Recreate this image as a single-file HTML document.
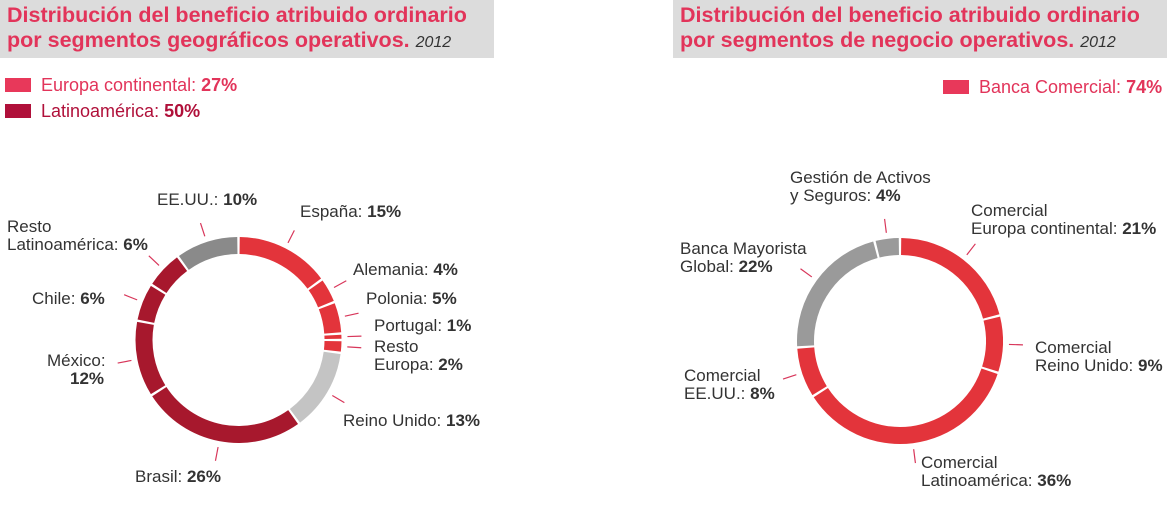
<!DOCTYPE html>
<html><head><meta charset="utf-8"><style>
body{margin:0;width:1171px;height:506px;background:#fff;overflow:hidden;font-family:"Liberation Sans",sans-serif;}
.hdr{position:absolute;top:0;height:58px;background:#dcdcdc;}
.ttl{position:absolute;left:7px;top:3px;color:#e2345a;font-weight:bold;font-size:21.5px;line-height:25px;white-space:nowrap;}
.ttl i{color:#333;font-weight:normal;font-size:16px;}
.leg{position:absolute;font-size:18px;white-space:nowrap;}
.sw{display:inline-block;width:26px;height:14px;vertical-align:-1px;margin-right:10px;}
svg{position:absolute;left:0;top:0;}
svg text{font-family:"Liberation Sans",sans-serif;font-size:17px;fill:#333;}
</style></head><body>
<div class="hdr" style="left:0;width:494px">
 <div class="ttl">Distribución del beneficio atribuido ordinario<br>por segmentos geográficos operativos. <i>2012</i></div></div>
<div class="hdr" style="left:673px;width:494px">
 <div class="ttl">Distribución del beneficio atribuido ordinario<br>por segmentos de negocio operativos. <i>2012</i></div></div>
<div class="leg" style="left:5px;top:75px;color:#e2345a"><span class="sw" style="background:#e8385a"></span>Europa continental: <b>27%</b></div>
<div class="leg" style="left:5px;top:101px;color:#b0103a"><span class="sw" style="background:#b0103a"></span>Latinoamérica: <b>50%</b></div>
<div class="leg" style="left:943px;top:77px;color:#e2345a"><span class="sw" style="background:#e8385a"></span>Banca Comercial: <b>74%</b></div>
<svg id="s" width="1171" height="506"></svg>
<script>
const leftValues=[15,4,5,1,2,13,26,12,6,6,10];
const leftColors=["#e3343b","#e3343b","#e3343b","#e3343b","#e3343b","#c4c4c4","#a7182d","#a7182d","#a7182d","#a7182d","#8a8a8a"];
const leftNames=["espana","alemania","polonia","portugal","resto-europa","reino-unido","brasil","mexico","chile","resto-latam","eeuu"];
const leftLabels=[["España: ","15%"],["Alemania: ","4%"],["Polonia: ","5%"],["Portugal: ","1%"],["Resto","","Europa: ","2%"],["Reino Unido: ","13%"],["Brasil: ","26%"],["México:","","","12%"],["Chile: ","6%"],["Resto","","Latinoamérica: ","6%"],["EE.UU.: ","10%"]];
const leftLabelPos=[[300,217],[353,275],[366,304],[374,331],[374,352],[343,426],[135,482],[47,366],[32,304],[7,232],[157,205]];
const rightValues=[21,9,36,8,22,4];
const rightColors=["#e3343b","#e3343b","#e3343b","#e3343b","#9a9a9a","#9a9a9a"];
const rightNames=["europa-continental","reino-unido","latinoamerica","eeuu","banca-mayorista","gestion-activos"];
const rightLabels=[["Comercial","","Europa continental: ","21%"],["Comercial","","Reino Unido: ","9%"],["Comercial","","Latinoamérica: ","36%"],["Comercial","","EE.UU.: ","8%"],["Banca Mayorista","","Global: ","22%"],["Gestión de Activos","","y Seguros: ","4%"]];
const rightLabelPos=[[971,216],[1035,353],[921,468],[684,381],[680,254],[790,183]];
const NS="http://www.w3.org/2000/svg",s=document.getElementById('s');
function mk(t,a){const e=document.createElementNS(NS,t);for(const k in a)e.setAttribute(k,a[k]);s.appendChild(e);return e;}
function pt(cx,cy,r,a){return [cx+r*Math.sin(a),cy-r*Math.cos(a)];}
function donut(side,cx,cy,vals,cols,names,labels,lpos){
 const R=103,r=86,tot=vals.reduce((a,b)=>a+b,0);let a0=0;
 vals.forEach((v,i)=>{
  const a1=a0+v/tot*2*Math.PI,g=0.012;
  const s0=a0+g,s1=a1-g,lg=(s1-s0)>Math.PI?1:0;
  const p1=pt(cx,cy,R,s0),p2=pt(cx,cy,R,s1),p3=pt(cx,cy,r,s1),p4=pt(cx,cy,r,s0);
  const p=mk('path',{d:`M${p1}A${R},${R} 0 ${lg} 1 ${p2}L${p3}A${r},${r} 0 ${lg} 0 ${p4}Z`,fill:cols[i]});
  
  
  const m=(a0+a1)/2,q1=pt(cx,cy,R+6,m),q2=pt(cx,cy,R+20,m);
  const ln=mk('line',{x1:q1[0],y1:q1[1],x2:q2[0],y2:q2[1],stroke:'#d8365a','stroke-width':1.2});
  
  
  const L=labels[i],[x,y]=lpos[i];
  for(let k=0;k<L.length;k+=2){
   const t=mk('text',{x:x+(k>0&&labels[i][0]==='México:'?23:0),y:y+(k/2)*18});
   
   
   t.appendChild(document.createTextNode(L[k]));
   if(L[k+1]){const b=document.createElementNS(NS,'tspan');b.setAttribute('font-weight','bold');b.textContent=L[k+1];t.appendChild(b);}
  }
  a0=a1;
 });
}
donut('left',238.5,340,leftValues,leftColors,leftNames,leftLabels,leftLabelPos);
donut('right',900,341,rightValues,rightColors,rightNames,rightLabels,rightLabelPos);
</script>
</body></html>
